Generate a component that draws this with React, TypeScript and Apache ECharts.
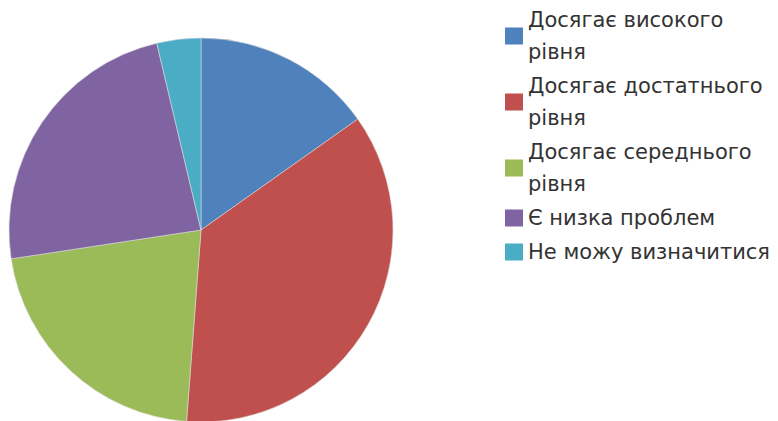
import React, { useEffect, useRef } from "react";
import * as echarts from "echarts";

const categories = [
  "Досягає високого рівня",
  "Досягає достатнього рівня",
  "Досягає середнього рівня",
  "Є низка проблем",
  "Не можу визначитися",
];
const legendLabels = [
  "Досягає високого\nрівня",
  "Досягає достатнього\nрівня",
  "Досягає середнього\nрівня",
  "Є низка проблем",
  "Не можу визначитися",
];
const values = [15.2, 36.0, 21.4, 23.7, 3.7];
const colors = ["#4F81BD", "#C0504D", "#9BBB59", "#8064A2", "#4BACC6"];

export default function App() {
  const ref = useRef<HTMLDivElement>(null);
  useEffect(() => {
    if (!ref.current) return;
    const chart = echarts.init(ref.current, null, { renderer: "svg" });
    chart.setOption({
      animation: false,
      backgroundColor: "#ffffff",
      color: colors,
      legend: {
        orient: "vertical",
        left: 505,
        top: 4,
        padding: 0,
        itemWidth: 18,
        itemHeight: 17,
        itemGap: 2,
        icon: "rect",
        selectedMode: false,
        itemStyle: { borderWidth: 0 },
        formatter: (name: string) => legendLabels[categories.indexOf(name)],
        textStyle: {
          fontFamily: "DejaVu Sans",
          fontSize: 21,
          lineHeight: 32,
          color: "#333333",
        },
        data: categories,
      },
      series: [
        {
          type: "pie",
          center: [201, 230],
          radius: 192,
          startAngle: 90,
          clockwise: true,
          label: { show: false },
          labelLine: { show: false },
          emphasis: { disabled: true },
          itemStyle: { borderColor: "#d8d8d8", borderWidth: 0.6 },
          data: categories.map((c, i) => ({ name: c, value: values[i] })),
        },
      ],
    });
    return () => chart.dispose();
  }, []);
  return (
    <div
      ref={ref}
      style={{ position: "fixed", left: 0, top: 0, width: 778, height: 421 }}
    />
  );
}
